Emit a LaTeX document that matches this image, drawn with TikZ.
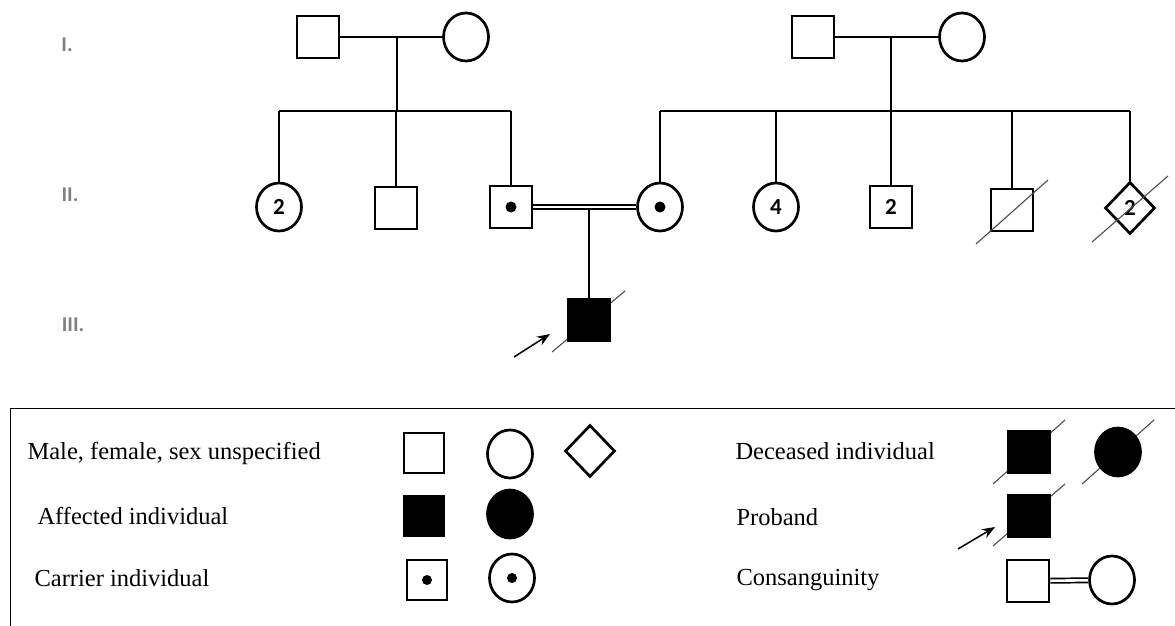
\documentclass[tikz,border=0pt]{standalone}
\usepackage{fontspec}
\setmainfont{Liberation Serif}
\newfontfamily\numfont{Carlito}
\usetikzlibrary{shapes.geometric,arrows.meta,calc,backgrounds}
\begin{document}
\begin{tikzpicture}[x=1pt,y=-1pt,
  ind/.style={draw, line width=2.7pt, inner sep=0pt, fill=white, font=\numfont\bfseries\fontsize{23}{23}\selectfont},
  male/.style={ind, rectangle, minimum width=42pt, minimum height=42pt},
  female/.style={ind, ellipse, minimum width=45pt, minimum height=48pt},
  unk/.style={ind, diamond, minimum width=50pt, minimum height=52pt},
  affected/.style={fill=black},
  dot/.style={fill=black},
  line/.style={line width=2.6pt},
  consang/.style={line width=1.7pt, double, double distance=2.6pt},
  slash/.style={line width=1.1pt, black!70},
  proarrow/.style={line width=1.5pt, -{Stealth[length=13pt,width=10pt]}},
  gen/.style={font=\numfont\bfseries\fontsize{21}{21}\selectfont, text=black!50},
  legtext/.style={font=\fontsize{24.5}{24.5}\selectfont, anchor=west},
]
\useasboundingbox (0,0) rectangle (1175,626);

% generation labels
\node[gen] (gI) at (67,45) {I.};
\node[gen] (gII) at (70,195) {II.};
\node[gen] (gIII) at (73,325) {III.};

% generation I
\node[male] (f1) at (318,37) {};
\node[female] (m1) at (466,37) {};
\node[male] (f2) at (813,37) {};
\node[female] (m2) at (962,37) {};
\coordinate (u1) at (397,37);
\coordinate (u2) at (891,37);
\coordinate (s1) at (397,111);
\coordinate (s2) at (891,111);
\draw[line] (f1) -- (m1);
\draw[line] (f2) -- (m2);
\draw[line] (u1) -- (s1);
\draw[line] (u2) -- (s2);

% generation II
\node[female] (a1) at (279,207) {2};
\node[male] (a2) at (396,208) {};
\node[male] (a3) at (511,207) {};
\node[female] (b1) at (660,207) {};
\node[female] (b2) at (776,207) {4};
\node[male] (b3) at (891,207) {2};
\node[male] (b4) at (1012,210) {};
\node[unk] (b5) at (1130,208) {2};
\fill[dot] (a3) circle (5.5pt);
\fill[dot] (b1) circle (5.5pt);

\draw[line] (a1 |- s1) -- (a3 |- s1);
\foreach \c in {a1,a2,a3} \draw[line] (\c |- s1) -- (\c);
\draw[line] (b1 |- s2) -- (b5 |- s2);
\foreach \c in {b1,b2,b3,b4,b5} \draw[line] (\c |- s2) -- (\c);

\draw[slash] ($(b4)+(-36,34)$) -- ($(b4)+(36,-30)$);
\draw[slash] ($(b5)+(-38,34)$) -- ($(b5)+(38,-32)$);

% consanguineous mating and proband
\draw[consang] (a3) -- (b1);
\coordinate (cu) at (589,209);
\node[male, affected] (p1) at (589,320) {};
\draw[line] (cu) -- (p1);
\begin{scope}[on background layer]
\draw[slash] ($(p1)+(-37,32)$) -- ($(p1)+(36,-29)$);
\end{scope}
\coordinate (pa) at (514,357);
\coordinate (ptip) at (550,334);
\draw[proarrow] (pa) -- (ptip);

% legend
\draw[line width=1pt] (10,640) -- (10,408) -- (1185,408);

\node[legtext] (t1) at (24,453) {Male, female, sex unspecified};
\node[legtext] (t2) at (34,516) {Affected individual};
\node[legtext] (t3) at (31,578) {Carrier individual};
\node[legtext] (t4) at (732,451) {Deceased individual};
\node[legtext] (t5) at (733,517) {Proband};
\node[legtext] (t6) at (733,580) {Consanguinity};

\node[male, minimum size=40pt] (l1) at (424,453) {};
\node[female] (l2) at (510,454) {};
\node[unk] (l3) at (590,451) {};
\node[male, affected, minimum size=40pt] (l4) at (424,516) {};
\node[female, affected] (l5) at (510,514) {};
\node[male, minimum size=40pt] (l6) at (427,580) {};
\node[female] (l7) at (512,578) {};
\fill[dot] (l6) circle (5pt);
\fill[dot] (l7) circle (5pt);

\node[male, affected] (r1) at (1029,452) {};
\node[female, affected] (r2) at (1118,452) {};
\node[male, affected] (r3) at (1029,516) {};
\begin{scope}[on background layer]
\draw[slash] ($(r1)+(-36,32)$) -- ($(r1)+(36,-32)$);
\draw[slash] ($(r2)+(-36,32)$) -- ($(r2)+(36,-32)$);
\draw[slash] ($(r3)+(-36,30)$) -- ($(r3)+(36,-32)$);
\end{scope}
\coordinate (ra) at (958,549);
\coordinate (rtip) at (995,527);
\draw[proarrow] (ra) -- (rtip);
\node[male] (r4) at (1028,581) {};
\node[female] (r5) at (1112,580) {};
\draw[consang] (r4) -- (r5);
\end{tikzpicture}
\end{document}
